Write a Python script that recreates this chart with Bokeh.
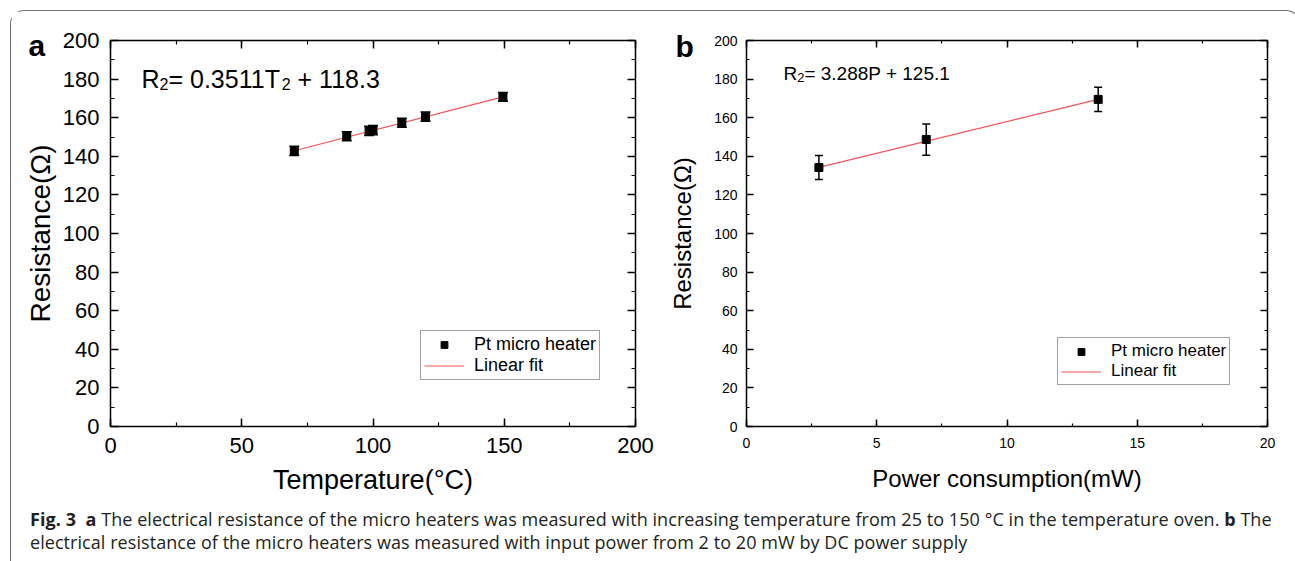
from bokeh.plotting import figure
from bokeh.models import (ColumnDataSource, Whisker, TeeHead, LinearAxis, SingleIntervalTicker,
                          Label, Legend, LegendItem, Div, Range1d, Title)
from bokeh.layouts import row, column
from bokeh.embed import file_html
from bokeh.resources import INLINE

# ---------------- data ----------------
temp_c = [70, 90, 98.5, 100, 111, 120, 149.5]
res_a = [142.8, 150.4, 153.2, 153.6, 157.4, 160.5, 170.8]
err_a = [2.4, 2.3, 2.4, 2.4, 2.3, 2.4, 2.3]
fit_a = (0.3511, 118.3)

power_mw = [2.78, 6.9, 13.5]
res_b = [134.2, 148.7, 169.5]
err_b = [6.2, 8.1, 6.3]
fit_b = (3.288, 125.1)

x_ticks_a = (0, 200, 50)
x_ticks_b = (0, 20, 5)
y_ticks = (0, 200, 20)

FONT = "Liberation Sans"
RED = "#f2545b"


def make_panel(x, y, err, fit, xr, yr, width, height, mb, tick_fs, label_fs_x, label_fs_y,
               xlabel, ylabel, tick_in, xstand, ystand, xlab_stand, ylab_stand,
               legend_loc, legend_fs, letter, letter_off, letter_stand, eq_parts, eq_anchor,
               head):
    p = figure(width=width, height=height, output_backend="svg", toolbar_location=None,
               x_range=Range1d(xr[0], xr[1]), y_range=Range1d(yr[0], yr[1]),
               min_border_left=mb[0], min_border_right=mb[1], min_border_top=mb[2],
               min_border_bottom=mb[3], x_axis_location=None, y_axis_location=None)
    p.grid.visible = False
    p.outline_line_color = None
    p.background_fill_color = "white"
    p.border_fill_color = "white"

    xt = SingleIntervalTicker(interval=xr[2], num_minor_ticks=2)
    yt = SingleIntervalTicker(interval=yr[2], num_minor_ticks=2)

    def style(ax, labels=True):
        ax.axis_line_color = "black"
        ax.axis_line_width = 1.5
        ax.major_tick_line_color = "black"
        ax.major_tick_line_width = 1.5
        ax.minor_tick_line_color = "black"
        ax.minor_tick_line_width = 1.2
        ax.major_tick_in = tick_in
        ax.major_tick_out = 0
        ax.minor_tick_in = tick_in // 2
        ax.minor_tick_out = 0
        ax.major_label_text_font = FONT
        ax.axis_label_text_font = FONT
        ax.axis_label_text_font_style = "normal"
        ax.axis_label_text_color = "black"
        if not labels:
            ax.major_label_text_color = None
            ax.major_label_text_font_size = "2px"
            ax.major_label_standoff = 0
        else:
            ax.major_label_text_color = "black"
            ax.major_label_text_font_size = f"{tick_fs}px"

    xb = LinearAxis(ticker=xt, axis_label=xlabel)
    style(xb)
    xb.major_label_standoff = xstand
    xb.axis_label_standoff = xlab_stand
    xb.axis_label_text_font_size = f"{label_fs_x}px"
    p.add_layout(xb, "below")

    yl = LinearAxis(ticker=yt, axis_label=ylabel)
    style(yl)
    yl.major_label_standoff = ystand
    yl.axis_label_standoff = ylab_stand
    yl.axis_label_text_font_size = f"{label_fs_y}px"
    p.add_layout(yl, "left")

    xa = LinearAxis(ticker=SingleIntervalTicker(interval=xr[2], num_minor_ticks=2))
    style(xa, labels=False)
    p.add_layout(xa, "above")
    yr_ax = LinearAxis(ticker=SingleIntervalTicker(interval=yr[2], num_minor_ticks=2))
    style(yr_ax, labels=False)
    p.add_layout(yr_ax, "right")

    src = ColumnDataSource(dict(x=x, y=y,
                                upper=[v + e for v, e in zip(y, err)],
                                lower=[v - e for v, e in zip(y, err)]))
    fx = [min(x), max(x)]
    fy = [fit[0] * v + fit[1] for v in fx]
    line_r = p.line(fx, fy, line_color=RED, line_width=1.2)

    sc = p.scatter("x", "y", source=src, marker="square", size=8, fill_color="black",
                   line_color="black")
    wh = Whisker(source=src, base="x", upper="upper", lower="lower",
                 line_color="black", line_width=1.5, level="overlay",
                 upper_head=TeeHead(size=head, line_color="black", line_width=1.5),
                 lower_head=TeeHead(size=head, line_color="black", line_width=1.5))
    p.add_layout(wh)

    leg = Legend(items=[LegendItem(label="Pt micro heater", renderers=[sc]),
                        LegendItem(label="Linear fit", renderers=[line_r])],
                 location=legend_loc)
    leg.label_text_font = FONT
    leg.label_text_font_size = f"{legend_fs}px"
    leg.label_text_color = "black"
    leg.border_line_color = "#444444"
    leg.border_line_width = 1
    leg.padding = 3
    leg.spacing = 0
    leg.margin = 0
    leg.glyph_width = 40
    leg.glyph_height = 17
    leg.label_standoff = 10
    leg.label_height = 17
    leg.background_fill_alpha = 1
    p.add_layout(leg, "center")

    t = Title(text=letter, align="left", offset=letter_off, standoff=letter_stand,
              text_font=FONT, text_font_size="30px", text_font_style="bold",
              text_color="black")
    p.add_layout(t, "above")

    for txt, dx, dy, fs in eq_parts:
        p.add_layout(Label(x=eq_anchor[0], y=eq_anchor[1], x_offset=dx, y_offset=dy,
                           text=txt, text_font=FONT, text_font_size=f"{fs}px",
                           text_color="black", text_baseline="alphabetic"))
    return p


eq_a = [("R", 0, 0, 25), ("2", 18.0, -5, 16), ("= 0.3511T", 27.0, 0, 25),
        ("2", 140.3, -5, 16), ("+ 118.3", 156.1, 0, 25)]
pa = make_panel(temp_c, res_a, err_a, fit_a, x_ticks_a, y_ticks, width=651, height=491,
                mb=(99, 27, 29, 76), tick_fs=22, label_fs_x=27, label_fs_y=28,
                xlabel="Temperature(°C)", ylabel="Resistance(Ω)", tick_in=8,
                xstand=11, ystand=11, xlab_stand=9, ylab_stand=4,
                legend_loc=(310, 46), legend_fs=18, letter="a",
                letter_off=-82, letter_stand=-42, eq_parts=eq_a, eq_anchor=(11.8, 179.8),
                head=10)

eq_b = [("R", 0, 0, 19), ("2", 13.7, -4, 13), ("= 3.288P + 125.1", 20.9, 0, 19)]
pb = make_panel(power_mw, res_b, err_b, fit_b, x_ticks_b, y_ticks, width=627, height=491,
                mb=(84, 22, 29, 75), tick_fs=14, label_fs_x=24, label_fs_y=24,
                xlabel="Power consumption(mW)", ylabel="Resistance(Ω)", tick_in=7,
                xstand=11, ystand=9, xlab_stand=14, ylab_stand=15,
                legend_loc=(311, 41), legend_fs=17, letter="b",
                letter_off=-71, letter_stand=-44, eq_parts=eq_b, eq_anchor=(1.42, 182.9),
                head=8)

caption_html = (
    '<div style="font-family:\'Open Sans\';font-size:18px;line-height:23px;color:#231f20;'
    'letter-spacing:0.06px;padding:1px 0 0 14px;white-space:nowrap;">'
    '<b>Fig. 3</b>&nbsp; <b>a</b> The electrical resistance of the micro heaters was measured with '
    'increasing temperature from 25 to 150 °C in the temperature oven. <b>b</b> The<br>'
    'electrical resistance of the micro heaters was measured with input power from 2 to 20 mW '
    'by DC power supply</div>'
)
cap = Div(text=caption_html, width=1278, height=58)

layout = column(row(pa, pb), cap,
                styles={"border": "1px solid #6d6e71", "border-bottom": "none",
                        "border-radius": "14px 14px 0 0", "margin": "10px 0 0 10px"})

open("out.html", "w").write(file_html(layout, INLINE))
